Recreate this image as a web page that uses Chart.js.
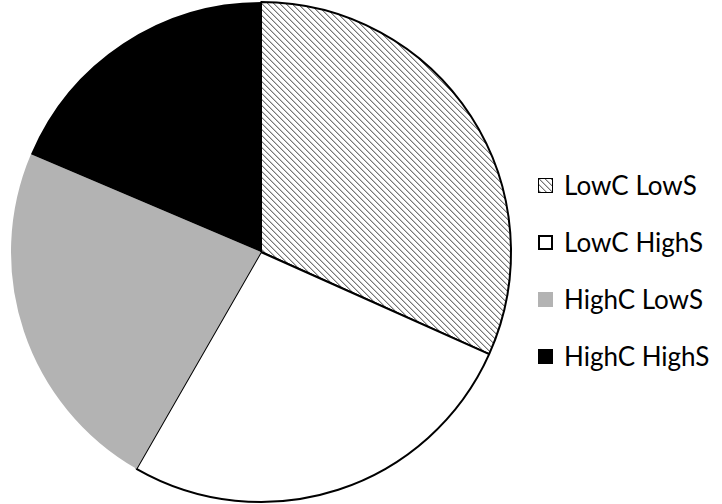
<!DOCTYPE html>
<html><head><meta charset="utf-8">
<script src="https://cdn.jsdelivr.net/npm/chart.js@4"></script>
<style>
html,body{margin:0;padding:0;background:#fff;}
#wrap{position:relative;width:722px;height:504px;overflow:hidden;background:#fff;}
#pieBox{position:absolute;left:0;top:0;width:522px;height:504px;}
#legend{position:absolute;left:538px;top:0;width:184px;height:504px;}
.item{position:absolute;left:0;height:30px;display:flex;align-items:center;white-space:nowrap;font-family:Lato,"Open Sans",sans-serif;font-size:22px;color:#000;}
.sw{width:15px;height:15px;box-sizing:border-box;margin-right:11px;flex:none;}
</style></head>
<body><div id="wrap"><div id="pieBox"><canvas id="c" width="522" height="504"></canvas></div><div id="legend"></div></div>
<script>
const categories = ['LowC LowS', 'LowC HighS', 'HighC LowS', 'HighC HighS'];
const shares = [31.7, 26.6, 23.1, 18.6];

function makeHatch() {
  const p = document.createElement('canvas');
  p.width = 6; p.height = 6;
  const g = p.getContext('2d');
  g.fillStyle = '#ffffff'; g.fillRect(0, 0, 6, 6);
  for (let i = 0; i < 6; i++) {
    g.fillStyle = '#777777'; g.fillRect(i, i, 1, 1);
    g.fillStyle = '#c4c4c4'; g.fillRect((i + 1) % 6, i, 1, 1);
  }
  return p;
}
const hatchCanvas = makeHatch();
const ctx = document.getElementById('c').getContext('2d');
const hatch = ctx.createPattern(hatchCanvas, 'repeat');
const fills = [hatch, '#ffffff', '#b3b3b3', '#000000'];
const borders = [2, 2, 0, 0];

new Chart(ctx, {
  type: 'pie',
  data: { labels: categories, datasets: [{ data: shares, backgroundColor: fills, borderColor: '#000000', borderWidth: borders }] },
  options: {
    responsive: false, animation: false, radius: 250,
    layout: { padding: 0 },
    plugins: { legend: { display: false }, tooltip: { enabled: false } }
  }
});

// fit legend font so the longest label spans about 154px (as in the reference)
const mctx = document.createElement('canvas').getContext('2d');
mctx.font = '100px Lato';
const longest = Math.max(...categories.map(s => mctx.measureText(s).width));
const fontPx = Math.min(26, Math.max(16, 154 / longest * 100));

const legend = document.getElementById('legend');
const firstRow = 185, rowGap = 57;
categories.forEach((name, i) => {
  const it = document.createElement('div');
  it.className = 'item';
  it.style.fontSize = fontPx.toFixed(1) + 'px';
  it.style.top = (firstRow + i * rowGap - 15) + 'px';
  const sw = document.createElement('div');
  sw.className = 'sw';
  if (i === 0) { sw.style.backgroundImage = 'url(' + hatchCanvas.toDataURL() + ')'; sw.style.border = '1.5px solid #000'; }
  else if (i === 1) { sw.style.background = '#fff'; sw.style.border = '2px solid #000'; }
  else { sw.style.background = fills[i]; }
  const tx = document.createElement('span');
  tx.textContent = name;
  it.appendChild(sw); it.appendChild(tx);
  legend.appendChild(it);
});
</script>
</body></html>
